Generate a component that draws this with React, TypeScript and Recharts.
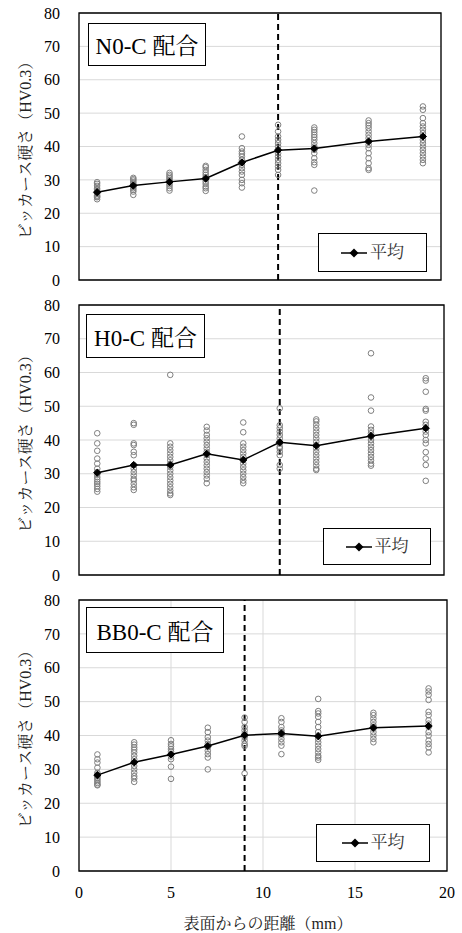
import React from 'react';
import {
  ScatterChart,
  Scatter,
  XAxis,
  YAxis,
  CartesianGrid,
  ReferenceLine,
  ReferenceArea,
  Legend,
} from 'recharts';

// ---------- data ----------
const DEPTHS = [1, 3, 5, 7, 9, 11, 13, 16, 19];
const X_TICKS = [0, 5, 10, 15, 20];
const Y_TICKS = [0, 10, 20, 30, 40, 50, 60, 70, 80];
const PANEL_TITLES = ['N0-C 配合', 'H0-C 配合', 'BB0-C 配合'];
const BOUNDARIES = [11, 11, 9];
const Y_LABEL = 'ビッカース硬さ（HV0.3）';
const X_LABEL = '表面からの距離（mm）';
const MEAN_NAME = '平均';

const N0_POINTS = [
  [24.2, 24.8, 25.3, 25.8, 26.2, 26.5, 27.0, 27.5, 28.2, 28.8, 29.3, 25.0, 26.0],
  [25.5, 26.5, 27.0, 27.5, 28.0, 28.3, 28.8, 29.3, 29.8, 30.2, 30.6],
  [26.8, 27.5, 28.2, 28.8, 29.2, 29.6, 30.0, 30.5, 31.0, 31.5, 32.1],
  [26.7, 27.5, 28.0, 28.8, 29.5, 30.2, 30.8, 31.5, 32.2, 33.0, 33.8, 34.2],
  [43.0, 39.5, 38.5, 37.8, 37.0, 36.0, 35.2, 34.5, 33.5, 32.5, 31.5, 30.0, 29.0, 27.7],
  [46.5, 44.5, 43.0, 42.0, 41.0, 40.0, 39.0, 38.0, 37.0, 36.0, 35.0, 34.0, 33.0, 31.5],
  [45.7, 45.0, 44.3, 43.5, 42.8, 42.0, 41.0, 40.0, 39.0, 38.0, 36.5, 35.3, 34.5, 26.8],
  [47.8, 47.0, 46.3, 45.5, 44.5, 43.5, 42.5, 41.5, 40.5, 39.5, 38.0, 36.5, 35.0, 33.5, 33.0],
  [52.0, 51.0, 48.5, 47.0, 46.0, 45.0, 44.0, 43.0, 42.0, 41.0, 40.0, 39.0, 38.0, 37.0, 36.0, 35.0],
];
const N0_MEAN = [26.3, 28.3, 29.4, 30.4, 35.2, 38.9, 39.4, 41.5, 43.0];

const H0_POINTS = [
  [42.0, 39.0, 36.8, 34.5, 33.0, 31.5, 30.5, 29.8, 29.0, 28.3, 27.6, 27.0, 26.3, 25.5, 24.7],
  [45.0, 44.5, 39.0, 38.5, 36.5, 35.5, 32.5, 31.5, 30.5, 29.5, 28.5, 28.0, 27.0, 26.0, 25.2],
  [59.3, 39.0, 38.0, 37.0, 36.0, 35.0, 34.0, 33.0, 32.0, 31.0, 30.0, 29.0, 28.0, 27.0, 26.0, 25.0, 24.2, 23.7],
  [43.9, 42.8, 41.5, 40.5, 39.5, 38.5, 37.5, 36.5, 35.5, 34.5, 33.5, 32.5, 31.5, 30.5, 29.5, 28.5, 27.2],
  [45.2, 42.3, 39.0, 38.0, 37.0, 36.0, 35.0, 34.0, 33.0, 32.0, 31.0, 30.0, 29.0, 28.0, 27.2],
  [49.4, 44.4, 43.5, 42.5, 41.5, 40.5, 39.5, 39.0, 38.0, 37.5, 36.5, 35.5, 32.6, 31.5],
  [46.1, 45.5, 44.5, 43.5, 42.5, 41.5, 40.5, 39.5, 38.5, 37.5, 36.5, 35.5, 34.5, 33.5, 32.5, 31.5, 31.1],
  [65.7, 52.6, 48.7, 44.0, 43.0, 42.0, 41.0, 40.0, 39.0, 38.0, 37.0, 36.0, 35.0, 34.0, 33.0, 32.4],
  [58.3, 57.6, 54.3, 49.2, 48.7, 45.4, 44.5, 43.5, 42.5, 41.5, 40.0, 39.0, 36.4, 34.5, 32.6, 27.9],
];
const H0_MEAN = [30.3, 32.6, 32.6, 35.9, 34.1, 39.3, 38.3, 41.2, 43.5];

const BB0_POINTS = [
  [34.4, 33.0, 32.0, 30.5, 29.0, 28.5, 28.0, 27.5, 27.0, 26.5, 26.0, 25.5, 25.3],
  [38.0, 37.3, 36.5, 35.8, 35.0, 34.0, 33.0, 32.0, 31.0, 30.0, 29.0, 28.0, 27.3, 26.3],
  [38.6, 37.5, 36.8, 36.0, 35.2, 34.5, 33.8, 33.0, 30.8, 27.2],
  [42.3, 41.0, 39.5, 38.5, 37.5, 36.5, 35.5, 34.5, 33.5, 30.0],
  [45.3, 44.0, 42.5, 41.5, 40.5, 40.0, 39.5, 38.5, 37.5, 36.9, 28.8],
  [45.1, 44.0, 42.5, 41.5, 41.0, 40.5, 40.0, 39.0, 38.0, 37.0, 34.5],
  [50.8, 47.2, 46.5, 45.5, 44.0, 42.5, 41.0, 40.0, 39.0, 38.0, 37.0, 36.0, 35.0, 34.0, 33.5, 32.8],
  [46.7, 46.0, 45.0, 44.0, 43.0, 42.5, 42.0, 41.0, 40.0, 39.0, 38.0],
  [53.9, 53.0, 52.0, 50.5, 47.0, 46.0, 44.5, 43.5, 42.5, 41.0, 40.0, 38.5, 37.5, 36.5, 35.0],
];
const BB0_MEAN = [28.3, 32.1, 34.4, 36.9, 40.1, 40.6, 39.8, 42.3, 42.8];

const ALL_POINTS = [N0_POINTS, H0_POINTS, BB0_POINTS];
const ALL_MEANS = [N0_MEAN, H0_MEAN, BB0_MEAN];

// ---------- layout ----------
const SERIF = 'Liberation Serif, Noto Serif CJK JP, Noto Sans CJK JP, serif';
const LAYOUTS = [
  {
    top: 0, height: 290, margin: { top: 13, right: 21, bottom: 10, left: 39 }, showX: false,
    title: { left: 88, top: 23, width: 118, height: 43 },
    legend: { left: 318, top: 233, width: 109, height: 39 },
  },
  {
    top: 295, height: 290, margin: { top: 10, right: 18, bottom: 10, left: 39 }, showX: false,
    title: { left: 86, top: 19, width: 119, height: 44 },
    legend: { left: 323, top: 233, width: 108, height: 37 },
  },
  {
    top: 590, height: 343, margin: { top: 10, right: 15, bottom: 0, left: 39 }, showX: true,
    title: { left: 86, top: 17, width: 138, height: 46 },
    legend: { left: 316, top: 234, width: 114, height: 38 },
  },
];

const HollowCircle = (props: any) => {
  const { cx, cy } = props;
  if (cx == null || cy == null) return null;
  return <circle cx={cx} cy={cy} r={2.8} fill="none" stroke="#7f7f7f" strokeWidth={1} />;
};

const Diamond = (props: any) => {
  const { cx, cy } = props;
  if (cx == null || cy == null) return null;
  const s = 3.6;
  return (
    <polygon
      points={`${cx},${cy - s} ${cx + s},${cy} ${cx},${cy + s} ${cx - s},${cy}`}
      fill="#000"
      stroke="#000"
    />
  );
};

const YAxisLabel = (props: any) => {
  const vb = props.viewBox || {};
  const cx = 25;
  const cy = (vb.y ?? 0) + (vb.height ?? 0) / 2;
  return (
    <text
      x={cx}
      y={cy}
      transform={`rotate(-90 ${cx} ${cy})`}
      textAnchor="middle"
      dominantBaseline="central"
      fontSize={16}
      fontFamily={SERIF}
      fill="#222"
    >
      {Y_LABEL}
    </text>
  );
};

const XAxisLabel = (props: any) => {
  const vb = props.viewBox || {};
  const cx = (vb.x ?? 0) + (vb.width ?? 0) / 2 + 5;
  const cy = 333;
  return (
    <text x={cx} y={cy} textAnchor="middle" dominantBaseline="central" fontSize={16} fontFamily={SERIF} fill="#222">
      {X_LABEL}
    </text>
  );
};

const LegendBox = (props: any) => {
  const items = (props.payload || []).filter((p: any) => p.value === MEAN_NAME);
  return (
    <div
      style={{
        width: '100%',
        height: '100%',
        boxSizing: 'border-box',
        border: '1.3px solid #000',
        background: '#fff',
        display: 'flex',
        alignItems: 'center',
        justifyContent: 'center',
      }}
    >
      {items.map((it: any) => (
        <div key={it.value} style={{ display: 'flex', alignItems: 'center' }}>
          <svg width={26} height={12} style={{ display: 'block' }}>
            <line x1={0} y1={6} x2={26} y2={6} stroke="#000" strokeWidth={1.5} />
            <polygon points="13,1.5 17.5,6 13,10.5 8.5,6" fill="#000" />
          </svg>
          <span style={{ fontFamily: SERIF, fontSize: 17, color: '#333', marginLeft: 3, lineHeight: '20px' }}>
            {it.value}
          </span>
        </div>
      ))}
    </div>
  );
};

const Panel = ({ index }: { index: number }) => {
  const lay = LAYOUTS[index];
  const points = ALL_POINTS[index].flatMap((col, i) => col.map((v) => ({ x: DEPTHS[i], y: v })));
  const mean = ALL_MEANS[index].map((v, i) => ({ x: DEPTHS[i], y: v }));
  return (
    <div style={{ position: 'absolute', left: 0, top: lay.top, width: 462, height: lay.height }}>
      <ScatterChart width={462} height={lay.height} margin={lay.margin}>
        <CartesianGrid stroke="#d9d9d9" strokeWidth={1} />
        <XAxis
          type="number"
          dataKey="x"
          domain={[0, 20]}
          ticks={X_TICKS}
          allowDataOverflow
          axisLine={false}
          tickLine={false}
          tickSize={0}
          tickMargin={16}
          height={lay.showX ? 62 : 0}
          tick={lay.showX ? { fontSize: 16, fontFamily: SERIF, fill: '#000' } : false}
          label={lay.showX ? <XAxisLabel /> : undefined}
        />
        <YAxis
          type="number"
          dataKey="y"
          domain={[0, 80]}
          ticks={Y_TICKS}
          allowDataOverflow
          width={40}
          axisLine={false}
          tickLine={false}
          tickSize={0}
          tickMargin={19}
          tick={{ fontSize: 16, fontFamily: SERIF, fill: '#000' }}
          label={<YAxisLabel />}
        />
        <ReferenceArea x1={0} x2={20} y1={0} y2={80} fill="none" fillOpacity={0} stroke="#000" strokeWidth={1.3} ifOverflow="visible" />
        <Scatter
          name="点"
          data={points}
          shape={<HollowCircle />}
          legendType="none"
          isAnimationActive={false}
        />
        <Scatter
          name={MEAN_NAME}
          data={mean}
          shape={<Diamond />}
          line={{ stroke: '#000', strokeWidth: 1.5 }}
          lineType="joint"
          isAnimationActive={false}
        />
        <ReferenceLine x={BOUNDARIES[index]} stroke="#000" strokeWidth={2} strokeDasharray="6 4" />
        <Legend
          layout="vertical"
          align="center"
          verticalAlign="middle"
          content={<LegendBox />}
          wrapperStyle={{
            position: 'absolute',
            left: lay.legend.left,
            top: lay.legend.top,
            width: lay.legend.width,
            height: lay.legend.height,
          }}
        />
      </ScatterChart>
      <div
        style={{
          position: 'absolute',
          left: lay.title.left,
          top: lay.title.top,
          width: lay.title.width,
          height: lay.title.height,
          boxSizing: 'border-box',
          border: '1.3px solid #000',
          background: '#fff',
          display: 'flex',
          alignItems: 'center',
          justifyContent: 'center',
          fontFamily: SERIF,
          fontSize: 23,
          color: '#000',
          whiteSpace: 'nowrap',
        }}
      >
        {PANEL_TITLES[index]}
      </div>
    </div>
  );
}

export default function App() {
  return (
    <div style={{ position: 'absolute', left: 0, top: 0, width: 462, height: 933, background: '#fff' }}>
      <Panel index={0} />
      <Panel index={1} />
      <Panel index={2} />
    </div>
  );
}
